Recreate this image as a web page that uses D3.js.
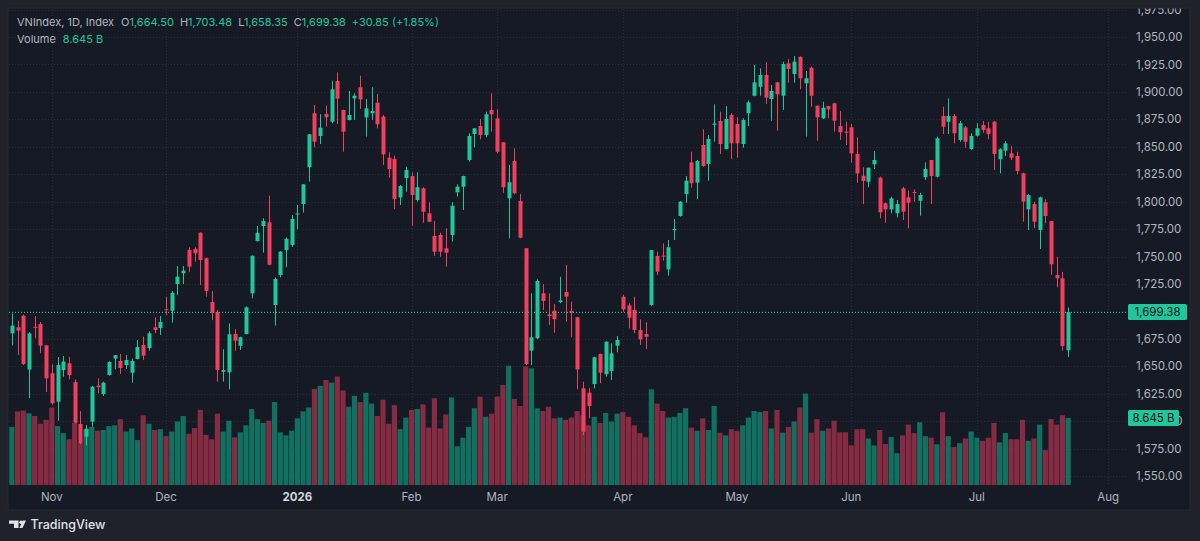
<!DOCTYPE html>
<html><head><meta charset="utf-8">
<script src="https://cdn.jsdelivr.net/npm/d3@7"></script>
<style>
html,body{margin:0;padding:0;background:#1f222b;}
svg{display:block;}
text{font-family:Inter,"Noto Sans",sans-serif;}
</style></head><body>
<svg id="chart" width="1200" height="541"></svg>
<script>
// ---- data (daily OHLC, volume in billions) ----
const opens=[1680,1685.5,1696,1647,1686,1688.5,1669,1643.6,1617.7,1646.6,1652.7,1635.6,1597.4,1585.8,1599.5,1632.3,1624.7,1642,1656.9,1654.8,1651.1,1644.1,1656.6,1669.4,1666.6,1685.5,1684.9,1701.9,1700.6,1724.9,1734.7,1755.9,1756.8,1771.7,1748.4,1708.5,1699.4,1645,1644.5,1679.4,1668.7,1679.4,1716.5,1764.1,1777.8,1781.1,1705.8,1733.1,1755.9,1760.5,1788.5,1797.8,1831.3,1880.5,1859.8,1879.8,1872.8,1909.9,1883.5,1874.4,1894.1,1904.2,1876.8,1880.5,1890.1,1877.4,1840,1838.8,1803.9,1821.5,1823.3,1801.5,1812.1,1789.4,1768.7,1769.6,1757.5,1769.6,1808.5,1813.6,1837.9,1861.6,1868.9,1860.7,1883.5,1875.9,1854.1,1803,1837,1800.6,1757.5,1664.2,1675.5,1716.5,1697.3,1700.6,1708.5,1717.6,1700.3,1694.6,1629.9,1625.9,1633.8,1661.2,1642.7,1645.7,1668.7,1713.4,1705.5,1701.3,1683,1679.4,1705.8,1750.5,1750.8,1738.3,1774,1786.9,1806.9,1835.8,1817.3,1851.6,1834.3,1870,1873.5,1847.9,1878.9,1870.7,1852.5,1880.5,1896.5,1904.7,1915.4,1893.5,1908.7,1896.5,1926,1916.3,1932,1907.8,1922,1887.4,1875.9,1887.1,1889.6,1868.9,1863.7,1867.7,1843.4,1823.6,1818.2,1834,1821.8,1798.5,1793,1789.4,1812.1,1803.9,1808.8,1800.8,1822.2,1837.9,1822.7,1878,1872.8,1878,1856.2,1867.7,1848,1860.1,1869.8,1866.8,1872.8,1838.6,1846.4,1844,1841.6,1825.8,1793,1797.8,1774.1,1799.4,1782.3,1733.1,1730.1,1664.50];
const highs=[1698,1691.5,1697,1681,1695.8,1690.3,1669.5,1651.8,1658.4,1659.3,1658.4,1638,1609.2,1596.5,1632,1639,1636,1654.5,1660.3,1661.2,1660.2,1657,1673.9,1677,1681.8,1694.6,1695.8,1713.4,1718.6,1741.3,1741.3,1758.4,1758.4,1772,1749,1718.6,1701.3,1665.5,1689,1683.7,1677,1704.5,1751,1777.8,1784.8,1805.4,1730.7,1755,1767.1,1787.8,1797,1816,1861.6,1888,1879.6,1887.4,1910.2,1917.8,1883.7,1900.8,1898.7,1914.7,1893.5,1904.2,1898,1879,1844.9,1841.9,1815.1,1831.8,1826.4,1826.7,1813,1799.4,1782.3,1771.7,1775.7,1799.4,1815.8,1823.6,1862.3,1867,1875.3,1882,1898.7,1884.1,1854.2,1833.4,1848.6,1807,1757.8,1716.5,1729.2,1725,1716.5,1706.7,1731.6,1742.3,1708.8,1695,1635.9,1629.9,1658.7,1661.5,1672.7,1670.9,1677.6,1714.9,1707.4,1713.4,1692.8,1690,1756,1754.4,1762,1765,1784.2,1800.5,1823.3,1845.5,1838,1865.9,1860.7,1888.7,1882,1887.1,1880.5,1876.8,1876,1892,1924.5,1921.5,1927,1906.3,1909,1927.5,1930,1932.7,1932.3,1919,1923,1887.6,1891,1887.4,1890.1,1882.6,1872.8,1870.7,1858.6,1831.3,1831,1846.1,1822.7,1799,1804.5,1801.5,1813.6,1810,1811.2,1808.1,1835.8,1838,1859.2,1886.5,1894.1,1879.8,1873.5,1868.9,1862.3,1871.4,1873.5,1872.8,1873.5,1848.6,1855.2,1850.7,1845.5,1826.4,1806.7,1799.9,1804.5,1802.1,1782.5,1749.8,1736,1703.48];
const lows=[1669,1660.3,1651,1621,1675.5,1661.8,1626.5,1615,1600.4,1640.5,1638,1598,1579,1578,1594.9,1625.3,1622.9,1641.5,1647.2,1642.9,1647.5,1635,1656.3,1655.7,1664.2,1680,1678.5,1696.7,1689.7,1714.7,1724.9,1736,1745.3,1724,1713.4,1692,1636,1636,1629,1664.2,1664.8,1679,1711.9,1763.5,1753.5,1742,1687,1731,1740.2,1758.9,1774.8,1790,1818.2,1849.5,1852.5,1868.3,1871.4,1870.7,1845.5,1874,1874.4,1884.4,1859.2,1874.4,1866.8,1833.4,1821.8,1793,1796.9,1809,1778,1800,1780.8,1781.5,1750.5,1749.8,1740.7,1763.5,1804.5,1792.4,1836.4,1849.5,1856.8,1858.6,1863.7,1844,1808.1,1766.6,1806.7,1766.6,1651.1,1651.1,1674.8,1701.3,1687.6,1680.6,1707.4,1690.6,1676.4,1629,1587.3,1602.5,1629.9,1634.5,1640.5,1637.5,1662.7,1699.7,1684.5,1680,1669.4,1665.5,1705,1733.1,1746.2,1732.5,1765,1786.3,1799,1812.7,1802.4,1831.8,1819.1,1854.6,1843.4,1847.5,1838.6,1840,1849.1,1868.9,1896,1896.5,1889,1873.7,1864.6,1883.5,1908.4,1908.4,1902.3,1859.2,1886.5,1855.5,1875.3,1875.9,1863.7,1856.2,1851.6,1835.5,1817.2,1797.8,1813.1,1829.7,1784.8,1780.8,1789.4,1785.7,1783.3,1775.7,1800,1787.2,1819.7,1797.8,1822,1861.6,1861.6,1853.1,1854.6,1849.1,1847.3,1859.2,1862.8,1856.8,1828.8,1825.8,1841.6,1837.9,1824.9,1781.7,1774.1,1775.7,1756.8,1780.2,1733.1,1721.9,1664.2,1658.35];
const closes=[1687,1682.4,1652,1680,1685,1668.7,1639,1616.2,1651.1,1654.2,1642,1598.6,1579.8,1593.1,1631.4,1630.9,1635,1653.9,1660,1648.4,1655.7,1654.8,1667.5,1659.6,1680,1683,1690.3,1701.3,1717,1731.6,1737.1,1740.7,1752.9,1746.8,1718.6,1698.8,1646.6,1646.5,1679.1,1673.3,1676.4,1703.7,1750.7,1771.7,1782.3,1742.5,1729.5,1754.4,1766.2,1784.2,1789.2,1815.8,1861.3,1854.6,1867.4,1876.8,1902.3,1893.8,1863.7,1878.9,1896.5,1893.2,1885,1882.6,1870.5,1843.1,1829.7,1802.4,1814.2,1828.8,1806,1813.1,1790.8,1781.7,1754.4,1754.4,1753.5,1796.3,1813.6,1823.3,1859.8,1866.8,1860.7,1879.6,1879.6,1845.5,1813.1,1817.6,1807.6,1767.1,1652.1,1676.4,1727.7,1709.5,1695.8,1692.8,1709.9,1713.4,1698.8,1647.2,1590.4,1613.8,1658.2,1644.1,1672.4,1661.8,1673.9,1701.9,1694.2,1683,1674.5,1676.9,1755.9,1736.2,1749.9,1758.4,1775.1,1799.9,1819.1,1816.7,1837,1832.5,1857.1,1871.2,1852.5,1875.3,1853.1,1853.1,1874.4,1890.5,1908.7,1915.4,1894.7,1900.8,1897.8,1925.4,1920.8,1927.5,1912.4,1912.4,1896.5,1876.8,1885.6,1884.1,1873.7,1863.2,1862.8,1844,1825.8,1818.8,1830.9,1837.9,1790.3,1793,1803,1797.8,1790.8,1799,1807.9,1806,1829.7,1823.3,1857.7,1868.3,1878,1862.3,1871.4,1854.6,1859.8,1866.8,1865.3,1861.6,1843.4,1847.7,1853.1,1840,1827.9,1799.9,1806,1781.7,1803.9,1786.9,1742.9,1730.1,1668.53,1699.38];
const volumes=[7.5,9.5,9.6,9.25,8.9,7.9,8.4,10.0,7.6,6.7,5.9,8.0,5.4,7.2,7.5,7.0,7.1,7.6,7.7,8.5,6.9,7.3,5.8,9.0,7.9,7.1,7.2,6.3,6.9,8.2,8.9,6.6,7.35,9.7,6.45,5.9,9.2,6.9,8.3,6.15,6.8,7.7,9.8,8.5,8.0,8.3,10.7,6.8,6.4,7.0,8.6,9.5,10.0,12.4,12.8,13.55,13.2,14.0,12.2,10.1,11.5,10.7,11.9,10.5,8.9,11.0,7.9,10.3,7.2,8.7,9.7,9.8,10.4,7.4,11.2,7.3,9.1,11.3,5.0,6.1,7.5,9.9,11.4,8.8,9.2,11.4,12.9,15.4,11.1,10.2,15.3,15.05,9.9,9.55,10.1,8.6,8.7,8.4,8.7,9.55,9.0,7.7,8.8,8.0,9.3,8.2,9.2,9.4,8.8,7.7,6.7,6.15,12.35,10.5,9.55,8.7,8.8,9.3,9.9,7.4,7.0,8.6,7.1,10.2,6.75,6.4,7.2,7.0,7.7,8.7,9.55,9.4,9.55,7.3,9.7,6.75,7.5,8.2,10.0,11.8,6.75,8.5,7.0,7.3,8.3,6.8,6.8,5.1,7.2,7.2,6.0,5.1,7.1,5.3,6.2,4.1,6.4,7.8,6.7,8.1,6.3,6.1,5.25,9.4,6.3,4.9,5.4,6.0,6.9,6.1,5.7,6.1,8.0,5.5,6.7,5.9,5.9,8.4,5.7,6.0,7.8,4.5,8.5,7.8,9.0,8.645];
const monthLabels=["Nov","Dec","2026","Feb","Mar","Apr","May","Jun","Jul","Aug"];
const monthIndex=[7,27,50,70,85,107,127,147,169,192];
const priceTicks=[1550,1575,1600,1625,1650,1675,1700,1725,1750,1775,1800,1825,1850,1875,1900,1925,1950,1975];
const symbolInfo=["VNIndex","1D","Index"];

// ---- styles ----
const UP="#1fc79c", DOWN="#f23f5e";
const UPV="#117060", DOWNV="#852b42";
const TXT="#b2b5be", GRID="#2a2e39";

const svg=d3.select("#chart");
const data=opens.map((o,i)=>({i,o,h:highs[i],l:lows[i],c:closes[i],v:volumes[i]}));

const panel={x0:8,y0:8,x1:1190,y1:510};
const plot={x0:9,y0:9,x1:1127,y1:485};

const x=d3.scaleLinear().domain([-0.5,195.3]).range([plot.x0,plot.x1]);
const y=d3.scaleLinear().domain([1550,1950]).range([476,37]);
const yv=d3.scaleLinear().domain([0,20]).range([plot.y1,plot.y1-155]);
const fmt=d3.format(",.2f");

// backgrounds
svg.append("rect").attr("width",1200).attr("height",541).attr("fill","#1f222b");
svg.append("rect").attr("x",panel.x0).attr("y",panel.y0).attr("width",panel.x1-panel.x0).attr("height",panel.y1-panel.y0)
  .attr("fill","#161a25").attr("stroke","#242833").attr("stroke-width",1);

const defs=svg.append("defs");
defs.append("clipPath").attr("id","plotclip").append("rect")
  .attr("x",plot.x0).attr("y",plot.y0).attr("width",plot.x1-plot.x0).attr("height",plot.y1-plot.y0);
defs.append("clipPath").attr("id","panelclip").append("rect")
  .attr("x",panel.x0).attr("y",panel.y0+0.5).attr("width",panel.x1-panel.x0).attr("height",panel.y1-panel.y0);

const g=svg.append("g").attr("clip-path","url(#plotclip)");

// grid
g.selectAll("line.hg").data(priceTicks).join("line")
  .attr("x1",plot.x0).attr("x2",plot.x1)
  .attr("y1",d=>Math.round(y(d))+0.5).attr("y2",d=>Math.round(y(d))+0.5)
  .attr("stroke",GRID).attr("stroke-dasharray","1,2");
g.selectAll("line.vg").data(monthIndex).join("line")
  .attr("x1",d=>Math.round(x(d))+0.5).attr("x2",d=>Math.round(x(d))+0.5)
  .attr("y1",plot.y0).attr("y2",plot.y1)
  .attr("stroke",GRID).attr("stroke-dasharray","1,2");

// volume
g.selectAll("rect.vol").data(data).join("rect")
  .attr("x",d=>x(d.i)-2.6).attr("width",5.2)
  .attr("y",d=>yv(d.v)).attr("height",d=>yv(0)-yv(d.v))
  .attr("fill",d=>d.c>=d.o?UPV:DOWNV);

// candles
const cg=g.selectAll("g.candle").data(data).join("g");
cg.append("line")
  .attr("x1",d=>Math.round(x(d.i))+0.5).attr("x2",d=>Math.round(x(d.i))+0.5)
  .attr("y1",d=>y(d.h)).attr("y2",d=>y(d.l))
  .attr("stroke",d=>d.c>=d.o?UP:DOWN).attr("stroke-width",1);
cg.append("rect")
  .attr("x",d=>Math.round(x(d.i))-1.5).attr("width",4)
  .attr("y",d=>y(Math.max(d.o,d.c)))
  .attr("height",d=>Math.max(1,Math.abs(y(d.o)-y(d.c))))
  .attr("fill",d=>d.c>=d.o?UP:DOWN);

// last price line
const last=data[data.length-1], prev=data[data.length-2];
g.append("line").attr("x1",plot.x0).attr("x2",plot.x1)
  .attr("y1",Math.round(y(last.c))+0.5).attr("y2",Math.round(y(last.c))+0.5)
  .attr("stroke",UP).attr("stroke-dasharray","1,2");

// price axis labels (the one hidden under the volume badge is clipped to its visible tail)
const vy=yv(last.v);
defs.append("clipPath").attr("id","tailclip").append("rect")
  .attr("x",1179).attr("y",0).attr("width",21).attr("height",541);
const pa=svg.append("g").attr("clip-path","url(#panelclip)");
pa.selectAll("text").data(priceTicks).join("text")
  .attr("x",1136).attr("y",d=>y(d)).attr("dy","0.36em")
  .attr("fill",TXT).attr("font-size",11.5)
  .attr("clip-path",d=>Math.abs(y(d)-vy)<12?"url(#tailclip)":null)
  .text(d=>fmt(d));

// price & volume badges
function badge(yc,w,label){
  svg.append("rect").attr("x",1128).attr("y",yc-8).attr("width",w).attr("height",16).attr("rx",1.5).attr("fill",UP);
  svg.append("text").attr("x",1128+w/2).attr("y",yc).attr("dy","0.36em").attr("text-anchor","middle")
    .attr("fill","#0c0f16").attr("font-size",11.5).text(label);
}
badge(y(last.c),59,fmt(last.c));
badge(vy,51,d3.format(".3f")(last.v)+" B");

// time axis labels
svg.selectAll("text.tl").data(monthLabels).join("text")
  .attr("x",(d,k)=>x(monthIndex[k])).attr("y",497).attr("dy","0.36em").attr("text-anchor","middle")
  .attr("font-size",11.5)
  .attr("font-weight",d=>/^\d+$/.test(d)?700:400)
  .attr("fill",d=>/^\d+$/.test(d)?"#d1d4dc":TXT).text(d=>d);

// legend
const chg=last.c-prev.c, pct=chg/prev.c*100;
const l1=svg.append("text").attr("x",17).attr("y",22).attr("dy","0.36em").attr("font-size",11).attr("fill",TXT);
l1.append("tspan").text(symbolInfo.join(", "));
[["O",last.o],["H",last.h],["L",last.l],["C",last.c]].forEach(([k,v],n)=>{
  l1.append("tspan").attr("dx",n===0?7:6).text(k);
  l1.append("tspan").attr("fill",UP).text(fmt(v));
});
l1.append("tspan").attr("dx",6).attr("fill",UP).text((chg>=0?"+":"")+fmt(chg)+" ("+(pct>=0?"+":"")+fmt(pct)+"%)");
const l2=svg.append("text").attr("x",17).attr("y",39).attr("dy","0.36em").attr("font-size",11).attr("fill",TXT);
l2.append("tspan").text("Volume");
l2.append("tspan").attr("dx",7).attr("fill",UP).text(d3.format(".3f")(last.v)+" B");

// TradingView brand
const logo=svg.append("g").attr("fill","#e1e3ea");
logo.append("path").attr("d","M9,520.5 H18.5 V528 H14 V523.8 H9 Z");
logo.append("circle").attr("cx",21).attr("cy",522.3).attr("r",1.8);
logo.append("path").attr("d","M22.8,520.5 H26 L22.5,528 H19.4 Z");
svg.append("text").attr("x",30.5).attr("y",524.5).attr("dy","0.36em").attr("font-size",12.5).attr("font-weight",500)
  .attr("fill","#e1e3ea").text("TradingView");
</script>
</body></html>
